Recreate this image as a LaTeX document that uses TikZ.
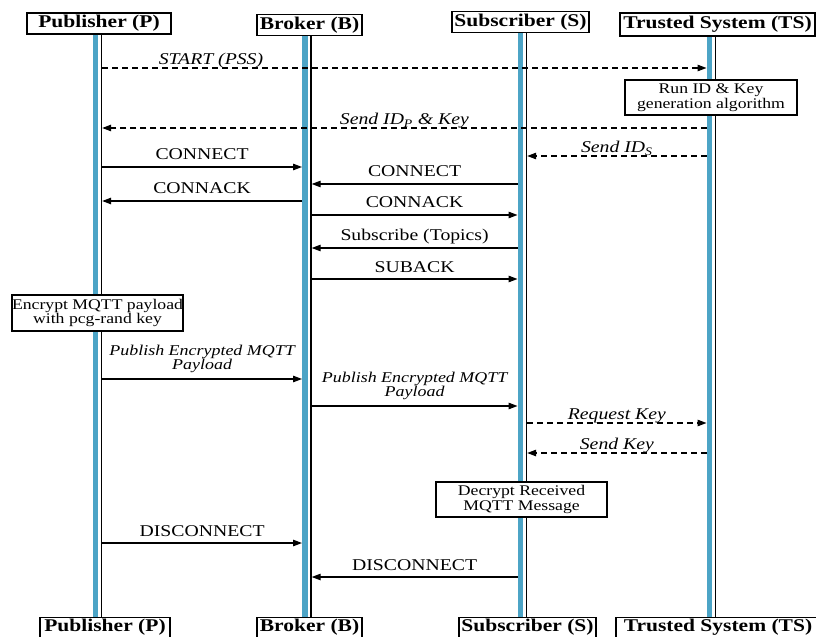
\documentclass[tikz,border=0pt]{standalone}
\usepackage{fontspec}
\setmainfont{Liberation Serif}[FakeStretch=1.2]
\usetikzlibrary{arrows.meta}
\definecolor{lifeblue}{RGB}{76,164,198}

\tikzset{
    head/.style={draw, line width=1.2bp, fill=white, inner sep=0pt, minimum height=21bp, font=\fontsize{18}{20}\selectfont\bfseries},
    note/.style={draw, line width=1.1bp, fill=white, inner sep=0pt, align=center, minimum width=171bp, minimum height=35bp, font=\fontsize{14.8}{14.5}\selectfont},
    msg/.style={line width=1.2bp, -{Triangle[length=9bp,width=6.5bp]}},
    dmsg/.style={msg, dash pattern=on 6bp off 4bp},
    lbl/.style={anchor=base, yshift=7bp, inner sep=0pt, font=\fontsize{16.5}{18}\selectfont},
    ilbl/.style={anchor=base, yshift=3.5bp, inner sep=0pt, font=\fontsize{16.5}{18}\selectfont\itshape},
    plbl/.style={anchor=south, yshift=6bp, inner sep=0pt, align=center, font=\fontsize{15}{14}\selectfont\itshape}
}

\begin{document}
\begin{tikzpicture}[x=1bp, y=-1bp]
            \useasboundingbox (0,0) rectangle (816,637);
            \clip (0,0) rectangle (816,637);
            \fill[white] (0,0) rectangle (816,637);

            \node[head, minimum width=144bp] (P-head) at (99,23.5) {Publisher (P)};
            \node[head, minimum width=105bp] (B-head) at (309.5,25) {Broker (B)};
            \node[head, minimum width=137bp] (S-head) at (520.5,22) {Subscriber (S)};
            \node[head, minimum width=195bp, minimum height=23bp] (T-head) at (717.5,24.5) {Trusted System (TS)};

            \node[head, minimum width=130bp, minimum height=20bp, anchor=north] (P-foot) at (105,617) {Publisher (P)};
            \node[head, minimum width=105bp, minimum height=20bp, anchor=north] (B-foot) at (309.5,617) {Broker (B)};
            \node[head, minimum width=137bp, minimum height=20bp, anchor=north] (S-foot) at (527.5,617) {Subscriber (S)};
            \node[head, minimum width=204bp, minimum height=20bp, anchor=north] (T-foot) at (718,617) {Trusted System (TS)};

            \foreach \n/\x in {P/101.5, B/311, S/526.5, T/715.5}{
                \coordinate (\n) at (\x,0);
                \coordinate (\n-l) at (\x-9,0);
                \coordinate (\n-r) at (\x+0.7,0);
                \fill[lifeblue] ([xshift=-8.75bp]\n |- \n-head.south) rectangle ([xshift=-3.25bp]\n |- \n-foot.north);
                \draw[line width=1.3bp] (\n |- \n-head.south) -- (\n |- \n-foot.north);
            }

            \draw[dmsg] (P-r |- 0,68) -- node[ilbl, pos=0.18]{START (PSS)} (T-l |- 0,68);
            \node[note, minimum width=172bp] (run) at (711,97.5) {Run ID \& Key\\generation algorithm};
            \draw[dmsg] (T-l |- 0,128) -- node[ilbl, midway]{Send ID\textsubscript{P} \& Key} (P-r |- 0,128);
            \draw[dmsg] (T-l |- 0,156) -- node[ilbl, midway]{Send ID\textsubscript{S}} (S-r |- 0,156);
            \draw[msg] (P-r |- 0,167) -- node[lbl, midway]{CONNECT} (B-l |- 0,167);
            \draw[msg] (S-l |- 0,184) -- node[lbl, midway]{CONNECT} (B-r |- 0,184);
            \draw[msg] (B-l |- 0,201) -- node[lbl, midway]{CONNACK} (P-r |- 0,201);
            \draw[msg] (B-r |- 0,215) -- node[lbl, midway]{CONNACK} (S-l |- 0,215);
            \draw[msg] (S-l |- 0,248) -- node[lbl, midway]{Subscribe (Topics)} (B-r |- 0,248);
            \draw[msg] (B-r |- 0,279) -- node[lbl, midway]{SUBACK} (S-l |- 0,279);

            \node[note, minimum height=36bp] (enc) at (97.5,313) {Encrypt MQTT payload\\with pcg-rand key};
            \draw[msg] (P-r |- 0,379) -- node[plbl, midway]{Publish Encrypted MQTT\\Payload} (B-l |- 0,379);
            \draw[msg] (B-r |- 0,406) -- node[plbl, midway]{Publish Encrypted MQTT\\Payload} (S-l |- 0,406);
            \draw[dmsg] (S-r |- 0,423) -- node[ilbl, midway]{Request Key} (T-l |- 0,423);
            \draw[dmsg] (T-l |- 0,453) -- node[ilbl, midway]{Send Key} (S-r |- 0,453);
            \node[note] (dec) at (521.5,499.5) {Decrypt Received\\MQTT Message};

            \draw[msg] (P-r |- 0,543) -- node[lbl, midway]{DISCONNECT} (B-l |- 0,543);
            \draw[msg] (S-l |- 0,577) -- node[lbl, midway]{DISCONNECT} (B-r |- 0,577);
\end{tikzpicture}
\end{document}
